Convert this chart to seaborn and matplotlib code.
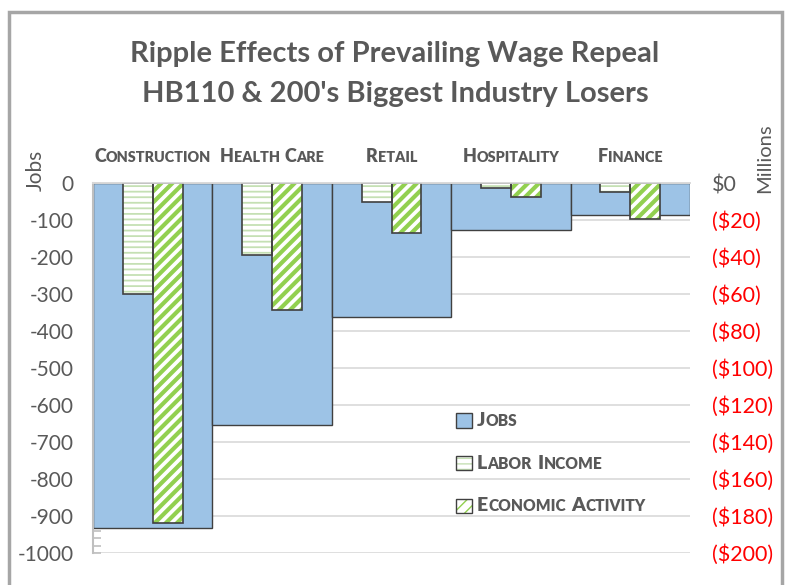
import matplotlib
matplotlib.use("Agg")
import matplotlib.pyplot as plt
import seaborn as sns
import pandas as pd
from matplotlib.patches import Rectangle, Patch
from matplotlib.ticker import MultipleLocator
from matplotlib.transforms import IdentityTransform
from matplotlib.legend_handler import HandlerTuple

# ---------------- data ----------------
categories = ["Construction", "Health Care", "Retail", "Hospitality", "Finance"]
jobs = [-933, -654, -362, -127, -86]                 # left axis (jobs)
labor_income = [-60, -39, -10, -2.7, -4.9]           # right axis ($ millions)
economic_activity = [-184, -68.5, -27, -7.3, -19.5]  # right axis ($ millions)
series_names = ["Jobs", "Labor Income", "Economic Activity"]
left_ticks = [0, -100, -200, -300, -400, -500, -600, -700, -800, -900, -1000]
right_ticks = [0, -20, -40, -60, -80, -100, -120, -140, -160, -180, -200]
right_labels = ["$0", "($20)", "($40)", "($60)", "($80)", "($100)", "($120)",
                "($140)", "($160)", "($180)", "($200)"]
title = "Ripple Effects of Prevailing Wage Repeal\nHB110 & 200's Biggest Industry Losers"

# ---------------- style ----------------
sns.set_theme(style="white")
FONT = ["Lato", "DejaVu Sans"]
plt.rcParams["font.family"] = FONT
GREY = "#595959"
BLUE = "#9DC3E6"
EDGE = "#404040"
GREEN = "#92D050"
LGREEN = "#C5E0B4"
RED = "#FF0000"

W, H, DPI = 788, 585, 100
fig = plt.figure(figsize=(W / DPI, H / DPI), dpi=DPI)
fig.patch.set_facecolor("white")

def px_axes(l, t, r, b):
    return [l / W, 1 - b / H, (r - l) / W, (b - t) / H]

ax = fig.add_axes(px_axes(93, 183, 690, 553))
ax2 = ax.twinx()

# Jobs bars (left axis)
df_jobs = pd.DataFrame({"industry": categories, "value": jobs})
sns.barplot(data=df_jobs, x="industry", y="value", ax=ax, width=1.0,
            color=BLUE, saturation=1, edgecolor=EDGE, linewidth=1.0,
            errorbar=None)

# Labor income / economic activity bars (right axis)
df_m = pd.DataFrame({
    "industry": categories * 2,
    "measure": [series_names[1]] * len(categories) + [series_names[2]] * len(categories),
    "value": labor_income + economic_activity,
})
sns.barplot(data=df_m, x="industry", y="value", hue="measure",
            hue_order=series_names[1:], ax=ax2, width=0.5,
            palette=["white", "white"], saturation=1, errorbar=None,
            legend=False)

HATCH_LI, HATCH_EA = "---", "///"

def style_hatched(container, hatch, color, hlw):
    for p in container.patches:
        p.set_facecolor("white")
        p.set_edgecolor(color)      # sets hatch colour
        p.set_linewidth(0)
        p.set_hatch(hatch)
        if hasattr(p, "set_hatch_linewidth"):
            p.set_hatch_linewidth(hlw)
        ax2.add_patch(Rectangle(p.get_xy(), p.get_width(), p.get_height(),
                                fill=False, edgecolor=EDGE, linewidth=1.2,
                                zorder=p.get_zorder() + 0.1))

style_hatched(ax2.containers[0], HATCH_LI, LGREEN, 1.3)
style_hatched(ax2.containers[1], HATCH_EA, GREEN, 3.0)

# axes limits / ticks
ax.set_ylim(-1000, 0)
ax2.set_ylim(-200, 0)
ax.set_xlim(-0.5, len(categories) - 0.5)
for a in (ax, ax2):
    a.set_xlabel("")
    a.set_ylabel("")
    a.set_xticks([])

ax.set_yticks(left_ticks)
ax.set_yticklabels([str(v) for v in left_ticks])
ax.yaxis.set_minor_locator(MultipleLocator(20))
ax.tick_params(axis="y", which="both", direction="in", length=6, width=1.2,
               color="#BFBFBF", left=True, labelsize=15, labelcolor=GREY, pad=14)
ax.grid(axis="y", color="#D9D9D9", linewidth=1.2)
ax.set_axisbelow(True)

ax2.set_yticks(right_ticks)
ax2.set_yticklabels(right_labels)
ax2.tick_params(axis="y", which="both", right=False, length=0, labelsize=15.5, pad=16)
for lbl, v in zip(ax2.get_yticklabels(), right_ticks):
    lbl.set_color(GREY if v == 0 else RED)
    lbl.set_horizontalalignment("left")

for a in (ax, ax2):
    for s in ("right", "bottom", "left"):
        a.spines[s].set_visible(False)
    a.spines["top"].set_color("#D9D9D9")
    a.spines["top"].set_linewidth(1.2)
ax.spines["left"].set_visible(True)
ax.spines["left"].set_color("#BFBFBF")
ax.spines["left"].set_linewidth(1.5)

# frame around chart
fig.add_artist(Rectangle((9 / W, -0.05), (782 - 9) / W, 1.05 - 12 / H,
                         transform=fig.transFigure, fill=False,
                         edgecolor="#A6A6A6", linewidth=2.5))

# title
fig.text(395 / W, 1 - 74 / H, title, ha="center", va="center",
         fontsize=21, fontweight="bold", color=GREY, linespacing=1.62)

# axis titles
fig.text(36 / W, 1 - 170 / H, "Jobs", rotation=90, ha="center", va="center",
         fontsize=15, color=GREY)
fig.text(765 / W, 1 - 158 / H, "Millions", rotation=90, ha="center", va="center",
         fontsize=14.5, color=GREY)

renderer = fig.canvas.get_renderer()

def small_caps(xpx, ypx_baseline, s, size, color=GREY, ha="center"):
    """Draw s in small caps; position in display pixels (origin bottom-left)."""
    texts = []
    gaps = []
    words = s.split(" ")
    for wi, word in enumerate(words):
        runs = []
        for ch in word:
            big = ch.isupper() or not ch.isalpha()
            fs = size if big else size * 0.8
            if runs and runs[-1][1] == fs:
                runs[-1][0] += ch.upper()
            else:
                runs.append([ch.upper(), fs])
        for ri, (txt, fs) in enumerate(runs):
            t = fig.text(0, 0, txt, fontsize=fs, fontweight="heavy", color=color,
                         ha="left", va="baseline", transform=IdentityTransform())
            texts.append(t)
            gaps.append(size * 0.3 * DPI / 72 if (ri == len(runs) - 1 and wi < len(words) - 1) else 0.0)
    widths = [t.get_window_extent(renderer).width for t in texts]
    total = sum(widths) + sum(gaps)
    x = xpx - total / 2 if ha == "center" else xpx
    for t, w, g in zip(texts, widths, gaps):
        t.set_position((x, ypx_baseline))
        x += w + g
    return texts

# category labels above the plot
for i, cat in enumerate(categories):
    xd, _ = ax.transData.transform((i, 0))
    small_caps(xd, H - 162, cat, 13)

# legend
handles = [
    Patch(facecolor=BLUE, edgecolor=EDGE, linewidth=1.0),
    (Patch(facecolor="white", edgecolor=LGREEN, linewidth=0, hatch=HATCH_LI),
     Patch(fill=False, edgecolor=EDGE, linewidth=1.0)),
    (Patch(facecolor="white", edgecolor=GREEN, linewidth=0, hatch=HATCH_EA),
     Patch(fill=False, edgecolor=EDGE, linewidth=1.0)),
]
leg = ax2.legend(handles, series_names, loc="upper left",
                 bbox_to_anchor=((440 - 93) / (690 - 93), 1 - (397 - 183) / 370),
                 frameon=False, fontsize=13, handlelength=0.85, handleheight=0.85,
                 handletextpad=0.3, labelspacing=1.45,
                 handler_map={tuple: HandlerTuple(ndivide=1)})
fig.canvas.draw()
for t in leg.get_texts():
    bb = t.get_window_extent(renderer)
    t.set_alpha(0)
    small_caps(bb.x0, bb.y0 + 3.5, t.get_text(), 14, ha="left")

fig.savefig("out.png", dpi=DPI, facecolor="white")
